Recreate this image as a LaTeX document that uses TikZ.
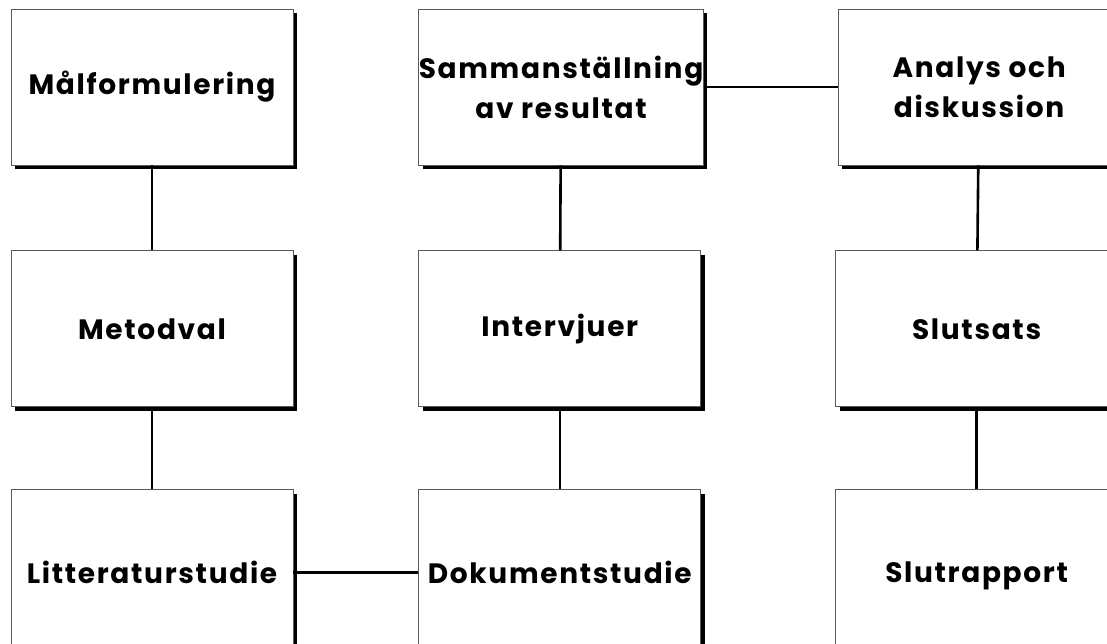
\documentclass[tikz,border=0pt]{standalone}
\usepackage{fontspec}
\setmainfont{Poppins}[LetterSpace=6]
\usetikzlibrary{positioning,shadows}

\tikzset{
    stepbox/.style={draw=black!65, line width=0.8pt, fill=white, minimum width=282pt, minimum height=156pt, inner sep=0pt, align=center, font=\fontsize{28}{40}\selectfont\bfseries, drop shadow={shadow xshift=4pt, shadow yshift=-4pt, fill=black, opacity=1}},
    link/.style={line width=2.6pt, black}
}

\begin{document}
\begin{tikzpicture}
    \useasboundingbox (0,0) rectangle (1107pt,-643pt);
    \node [stepbox] (mal) at (152pt,-87pt) {Målformulering};
    \node [stepbox, below=85pt of mal] (metod) {Metodval};
    \draw [link] (mal) -- (metod);
    \node [stepbox, below=82pt of metod, minimum height=166pt] (litt) {Litteraturstudie};
    \draw [link] (metod) -- (litt);

    \node [stepbox, right=125pt of litt, minimum height=166pt] (dok) {Dokumentstudie};
    \draw [link] (litt) -- (dok);
    \node [stepbox, right=125pt of metod] (intervju) {Intervjuer};
    \draw [link] (dok) -- (intervju);
    \node [stepbox, right=125pt of mal] (samman) {Sammanställning\\av resultat};
    \draw [link] (intervju) -- (samman);

    \node [stepbox, right=134pt of samman] (analys) {Analys och\\diskussion};
    \draw [link] (samman) -- (analys);
    \node [stepbox, right=134pt of intervju] (slutsats) {Slutsats};
    \draw [link] (analys) -- (slutsats);
    \node [stepbox, right=134pt of dok, minimum height=166pt, text depth=0pt] (slutrapp) {Slutrapport};
    \draw [link] (slutsats) -- (slutrapp);
\end{tikzpicture}
\end{document}
